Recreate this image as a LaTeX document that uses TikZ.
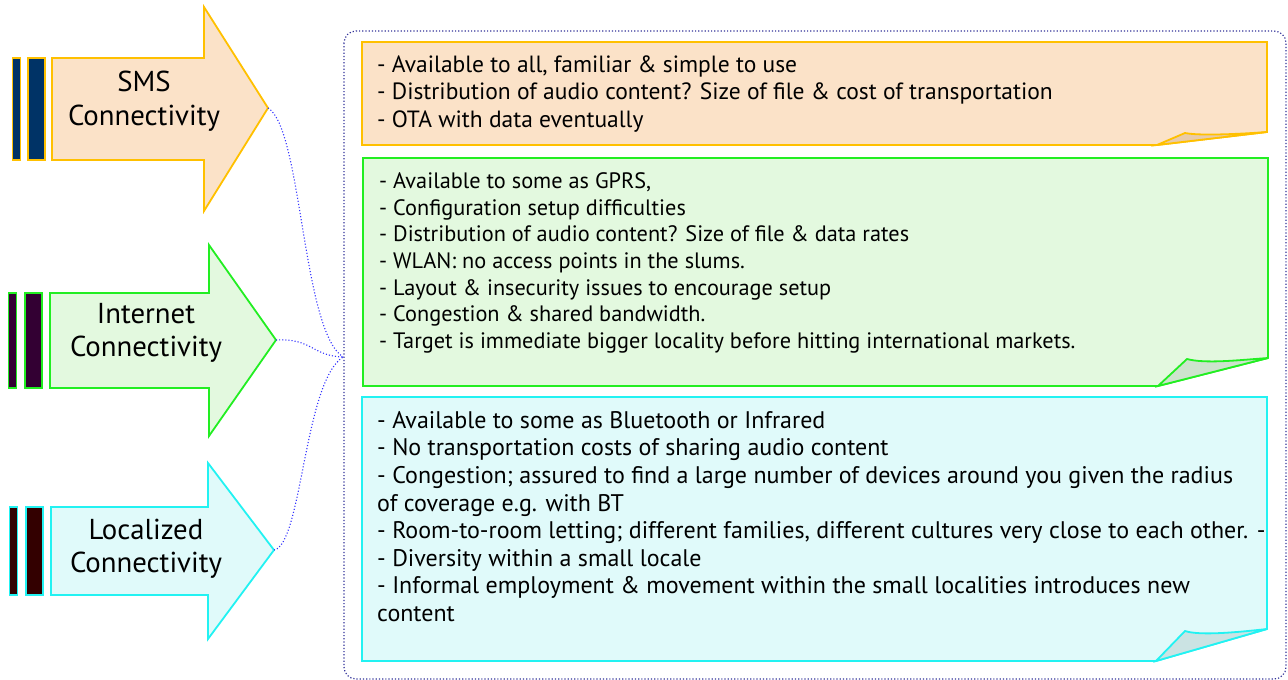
\documentclass[tikz,border=0pt]{standalone}
\usepackage{fontspec}
\setmainfont{PT Sans}
\definecolor{smsedge}{HTML}{FFC000}
\definecolor{smsfill}{HTML}{FBE2C8}
\definecolor{smsfold}{HTML}{E8CBAA}
\definecolor{smsbar}{HTML}{003366}
\definecolor{netedge}{HTML}{22EE22}
\definecolor{netfill}{HTML}{E3F9DF}
\definecolor{netfold}{HTML}{CDE3CD}
\definecolor{netbar}{HTML}{330033}
\definecolor{locedge}{HTML}{22F2F2}
\definecolor{locfill}{HTML}{E0FAFA}
\definecolor{locfold}{HTML}{CBE3E3}
\definecolor{locbar}{HTML}{330000}
\definecolor{linkblue}{HTML}{3333FF}
\definecolor{groupblue}{HTML}{333399}
\tikzset{
  shapeline/.style={line width=1.8pt, line join=miter},
  link/.style={linkblue, line width=1.1pt, dotted},
  groupframe/.style={groupblue, line width=1.2pt, dotted, rounded corners=12pt},
  arrowlabel/.style={inner sep=0pt, anchor=base, font=\fontsize{28.8}{33.5}\selectfont},
  notetext/.style={inner sep=0pt, anchor=base west},
}
\begin{document}
\begin{tikzpicture}[x=1pt,y=-1pt]
\useasboundingbox (0,0) rectangle (1288,680);

% grouping frame around the three notes
\draw[groupframe] (344,31) rectangle (1286,679);

% ---- SMS arrow ----
\filldraw[shapeline, draw=smsedge, fill=smsbar] (12.5,58) rectangle (20.5,160);
\filldraw[shapeline, draw=smsedge, fill=smsbar] (28,58) rectangle (45,160);
\filldraw[shapeline, draw=smsedge, fill=smsfill]
  (52,58) -- (204,58) -- (204,7) -- (268,108) -- (204,211) -- (204,160) -- (52,160) -- cycle;
\coordinate (smstip) at (268,108);
\node[arrowlabel] (smslabel) at (144,91.7)
  {\begin{tabular}[t]{@{}c@{}}SMS\\Connectivity\end{tabular}};

% ---- Internet arrow ----
\filldraw[shapeline, draw=netedge, fill=netbar] (8.5,293) rectangle (16.5,388);
\filldraw[shapeline, draw=netedge, fill=netbar] (25,293) rectangle (42,388);
\filldraw[shapeline, draw=netedge, fill=netfill]
  (50,293) -- (209,293) -- (209,245) -- (276,340) -- (209,436) -- (209,388) -- (50,388) -- cycle;
\coordinate (nettip) at (276,340);
\node[arrowlabel] (netlabel) at (146,323.3)
  {\begin{tabular}[t]{@{}c@{}}Internet\\Connectivity\end{tabular}};

% ---- Localized arrow ----
\filldraw[shapeline, draw=locedge, fill=locbar] (9.5,507) rectangle (17.5,595);
\filldraw[shapeline, draw=locedge, fill=locbar] (26,507) rectangle (43,595);
\filldraw[shapeline, draw=locedge, fill=locfill]
  (51,507) -- (208,507) -- (208,463) -- (274,550) -- (208,639) -- (208,595) -- (51,595) -- cycle;
\coordinate (loctip) at (274,550);
\node[arrowlabel] (loclabel) at (146,539.3)
  {\begin{tabular}[t]{@{}c@{}}Localized\\Connectivity\end{tabular}};

% ---- connectors into the frame ----
\coordinate (hub) at (343,357);
\draw[link] (smstip) .. controls (302,128) and (302,330) .. (hub);
\draw[link] (nettip) .. controls (312,338) and (312,356) .. (hub);
\draw[link] (loctip) .. controls (302,545) and (304,382) .. (hub);

% ---- SMS note ----
\filldraw[shapeline, draw=smsedge, fill=smsfill]
  (362,42) -- (1267,42) -- (1267,132) -- (1157,145) -- (362,145) -- cycle;
\filldraw[shapeline, draw=smsedge, fill=smsfold]
  (1157,145) -- (1185,133) .. controls (1200,136) and (1240,134) .. (1267,132) -- cycle;
\node[notetext, font=\fontsize{23.5}{27.8}\selectfont] (smsnote) at (377,72) {\begin{tabular}[t]{@{}l@{}}
- Available to all, familiar \& simple to use\\
- Distribution of audio content? Size of file \& cost of transportation\\
- OTA with data eventually\end{tabular}};

% ---- Internet note ----
\filldraw[shapeline, draw=netedge, fill=netfill]
  (363,158) -- (1268,158) -- (1268,358) -- (1158,386) -- (363,386) -- cycle;
\filldraw[shapeline, draw=netedge, fill=netfold]
  (1158,386) -- (1187,359) .. controls (1205,364) and (1240,360) .. (1268,358) -- cycle;
\node[notetext, font=\fontsize{22.3}{26.7}\selectfont] (netnote) at (379,188.3) {\begin{tabular}[t]{@{}l@{}}
- Available to some as GPRS,\\
- Configuration setup difficulties\\
- Distribution of audio content? Size of file \& data rates\\
- WLAN: no access points in the slums.\\
- Layout \& insecurity issues to encourage setup\\
- Congestion \& shared bandwidth.\\
- Target is immediate bigger locality before hitting international markets.\end{tabular}};

% ---- Localized note ----
\filldraw[shapeline, draw=locedge, fill=locfill]
  (362,397) -- (1267,397) -- (1267,629) -- (1156,661) -- (362,661) -- cycle;
\filldraw[shapeline, draw=locedge, fill=locfold]
  (1156,661) -- (1185,631) .. controls (1200,636) and (1240,632) .. (1267,629) -- cycle;
\node[notetext, font=\fontsize{24}{27.6}\selectfont] (locnote) at (377,428.3) {\begin{tabular}[t]{@{}l@{}}
- Available to some as Bluetooth or Infrared\\
- No transportation costs of sharing audio content\\
- Congestion; assured to find a large number of devices around you given the radius\\
of coverage e.g. with BT\\
- Room-to-room letting; different families, different cultures very close to each other. -\\
- Diversity within a small locale\\
- Informal employment \& movement within the small localities introduces new\\
content\end{tabular}};
\end{tikzpicture}
\end{document}
